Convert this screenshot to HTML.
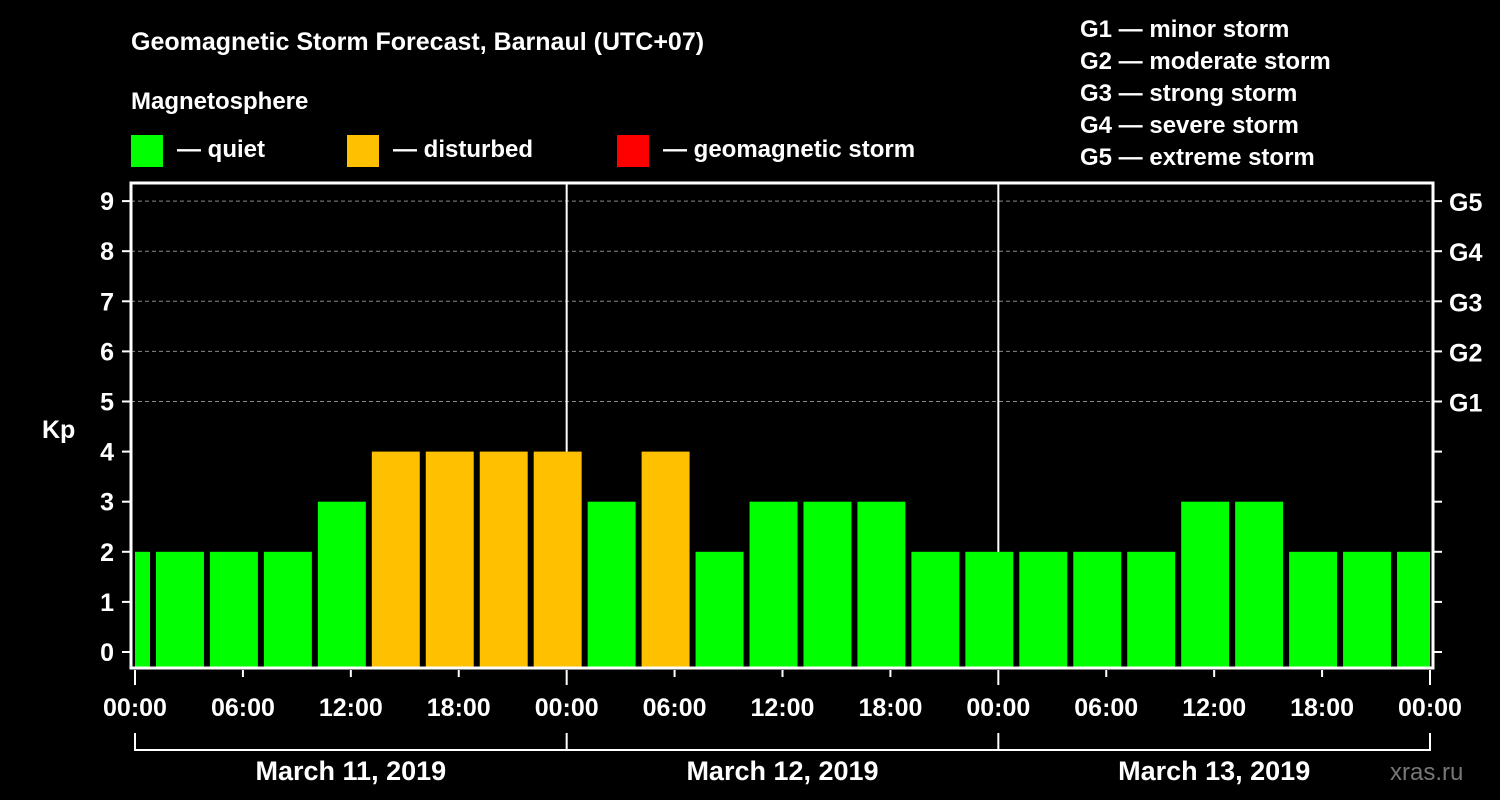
<!DOCTYPE html>
<html><head><meta charset="utf-8"><style>
body{margin:0;background:#000;}
svg{display:block;font-family:"Liberation Sans",Arial,sans-serif;font-weight:bold;}
</style></head><body>
<svg id="c" width="1500" height="800">
<rect width="1500" height="800" fill="#000"/>
<text x="131" y="50" font-size="25" fill="#fff">Geomagnetic Storm Forecast, Barnaul (UTC+07)</text>
<text x="131" y="109" font-size="24" fill="#fff">Magnetosphere</text>
<g><rect x="131" y="135" width="32" height="32" fill="#00ff00"/><text x="177" y="157" font-size="24" fill="#fff">— quiet</text></g>
<g><rect x="347" y="135" width="32" height="32" fill="#ffc000"/><text x="393" y="157" font-size="24" fill="#fff">— disturbed</text></g>
<g><rect x="617" y="135" width="32" height="32" fill="#ff0000"/><text x="663" y="157" font-size="24" fill="#fff">— geomagnetic storm</text></g>
<g font-size="24" fill="#fff">
<text x="1080" y="37">G1 — minor storm</text>
<text x="1080" y="69">G2 — moderate storm</text>
<text x="1080" y="101">G3 — strong storm</text>
<text x="1080" y="133">G4 — severe storm</text>
<text x="1080" y="165">G5 — extreme storm</text>
</g>
<text x="42" y="438" font-size="25" fill="#fff">Kp</text>
<text x="1390" y="780" font-size="24" fill="#777" font-weight="normal">xras.ru</text>
<g id="plot"></g>
</svg>
<script>
const kpValues=[2,2,2,2,3,4,4,4,4,3,4,2,3,3,3,2,2,2,2,2,3,3,2,2,2];
const binStartHours=[-2,1,4,7,10,13,16,19,22,25,28,31,34,37,40,43,46,49,52,55,58,61,64,67,70];
const hourLabels=["00:00","06:00","12:00","18:00","00:00","06:00","12:00","18:00","00:00","06:00","12:00","18:00","00:00"];
const dayLabels=["March 11, 2019","March 12, 2019","March 13, 2019"];
const yTicks=[0,1,2,3,4,5,6,7,8,9];
const gLabels=["G1","G2","G3","G4","G5"];
const ns="http://www.w3.org/2000/svg";
const g=document.getElementById('plot');
const X0=135,PX=(1430-135)/72,L=131,R=1433,T=183,B=668;
const x=h=>X0+h*PX;
const y=v=>652-v*50.1;
function mk(t,a,p){const e=document.createElementNS(ns,t);for(const k in a)e.setAttribute(k,a[k]);(p||g).appendChild(e);return e;}
yTicks.forEach(v=>{
 if(v>=5){const l=mk('line',{x1:L,x2:R,y1:y(v),y2:y(v),stroke:'#888','stroke-dasharray':'4,3'});
 
 }
 const t1=mk('line',{x1:122,x2:L,y1:y(v),y2:y(v),stroke:'#fff','stroke-width':2});
 
 
 mk('line',{x1:R,x2:1442,y1:y(v),y2:y(v),stroke:'#fff','stroke-width':2});
 const tx=mk('text',{x:114,y:y(v)+9,'font-size':25,fill:'#fff','text-anchor':'end'});tx.textContent=v;
 
 
});
gLabels.forEach((s,i)=>{const t=mk('text',{x:1449,y:y(i+5)+10,'font-size':25,fill:'#fff'});t.textContent=s;
 
 });
[24,48].forEach(h=>{const l=mk('line',{x1:x(h),x2:x(h),y1:T,y2:B,stroke:'#fff','stroke-width':2});
 
 });
kpValues.forEach((v,i)=>{
 const s=Math.max(0,binStartHours[i]),e=Math.min(72,binStartHours[i]+3);
 let x1=x(s)+(binStartHours[i]>=0?3:0),x2=x(e)-(binStartHours[i]+3<=72?3:0);
 const c=v>=5?'#ff0000':v>=4?'#ffc000':'#00ff00';
 const r=mk('rect',{x:x1,y:y(v),width:x2-x1,height:B-y(v),fill:c});
 
 
});
mk('rect',{x:L,y:T,width:R-L,height:B-T,fill:'none',stroke:'#fff','stroke-width':3});
hourLabels.forEach((s,i)=>{const h=i*6;
 mk('line',{x1:x(h),x2:x(h),y1:B+2,y2:(i%4==0?685:677),stroke:'#fff','stroke-width':2});
 const t=mk('text',{x:x(h),y:716,'font-size':25,fill:'#fff','text-anchor':'middle'});t.textContent=s;
 
 });
mk('path',{d:`M${x(0)},733V750H${x(72)}V733M${x(24)},733V750M${x(48)},733V750`,stroke:'#fff','stroke-width':2,fill:'none'});
dayLabels.forEach((s,i)=>{const t=mk('text',{x:x(i*24+12),y:780,'font-size':27,fill:'#fff','text-anchor':'middle'});t.textContent=s;
 
 });
</script>
</body></html>
